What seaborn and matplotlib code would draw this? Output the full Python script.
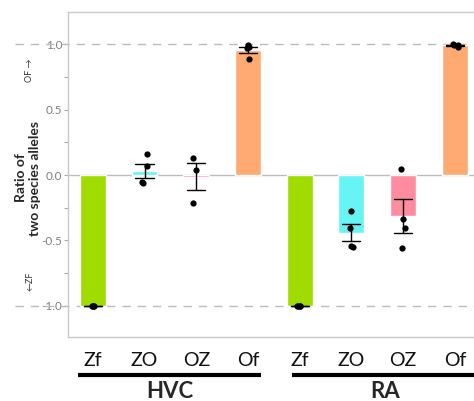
import numpy as np
import pandas as pd
import matplotlib
matplotlib.use("Agg")
import matplotlib.pyplot as plt
import matplotlib.transforms as mtransforms
import seaborn as sns

# =========================
# DATOS
# =========================
regions = ["HVC", "RA"]
genotypes = ["Zf", "ZO", "OZ", "Of"]

hvc_zf = [-1.0, -1.0, -1.0, -1.0]
hvc_zo = [0.16, 0.07, -0.05, -0.06]
hvc_oz = [0.13, 0.04, -0.21]
hvc_of = [0.99, 0.98, 0.97, 0.885]

ra_zf = [-1.0, -1.0, -1.0, -1.0]
ra_zo = [-0.275, -0.405, -0.55, -0.54]
ra_oz = [0.046, -0.336, -0.405, -0.557]
ra_of = [1.0, 0.99, 0.98, 0.99]

colors = ["#a0dc00", "#66f4f4", "#ff8ca0", "#ffaa73"]

series = {
    "HVC_Zf": hvc_zf, "HVC_ZO": hvc_zo, "HVC_OZ": hvc_oz, "HVC_Of": hvc_of,
    "RA_Zf": ra_zf, "RA_ZO": ra_zo, "RA_OZ": ra_oz, "RA_Of": ra_of,
}
order = list(series.keys())
rows = [(k, v) for k, vals in series.items() for v in vals]
df = pd.DataFrame(rows, columns=["grupo", "ratio"])
palette = {k: colors[i % 4] for i, k in enumerate(order)}

# =========================
# FIGURA
# =========================
sns.set_style("white")
plt.rcParams["font.family"] = ["Lato", "DejaVu Sans"]

fig = plt.figure(figsize=(4.74, 4.01), dpi=100)
ax = fig.add_axes([68 / 474, 1 - 337 / 401, 1 - 68 / 474, (337 - 12) / 401])

sns.barplot(data=df, x="grupo", y="ratio", hue="grupo", order=order, palette=palette,
            legend=False, width=0.5, errorbar="se", capsize=0.35,
            err_kws={"color": "black", "linewidth": 1.0}, ax=ax, saturation=1)

np.random.seed(3)
sns.stripplot(data=df, x="grupo", y="ratio", order=order, color="black",
              size=4.5, jitter=0.06, ax=ax)

ax.set_xlim(-0.48, 7.37)
ax.set_ylim(-1.237, 1.245)

# lineas de referencia
ax.axhline(0, color="#bdbdbd", linewidth=1.0, zorder=0.5)
for yv in [1.0, -1.0]:
    ax.axhline(yv, xmin=-(68 - 15) / (474 - 68), xmax=1, color="#bbbbbb",
               linewidth=1.0, linestyle=(0, (6, 5)), clip_on=False, zorder=0.6)

# ejes
for s in ["left", "top", "bottom"]:
    ax.spines[s].set_color("#c8c8c8")
    ax.spines[s].set_linewidth(1.0)
ax.spines["right"].set_visible(False)

ax.set_yticks([-1.0, -0.5, 0.0, 0.5, 1.0])
ax.set_yticklabels(["-1.0", "-0.5", "0.0", "0.5", "1.0"])
ax.set_yticks([-0.75, -0.25, 0.25, 0.75], minor=True)
ax.tick_params(axis="y", which="both", left=True, color="#aaaaaa", labelcolor="#808080",
               labelsize=8.5, length=3, width=0.8, pad=1)
ax.tick_params(axis="x", bottom=False, labelsize=14, pad=7, labelcolor="#111111")
ax.set_xticks(range(8))
ax.set_xticklabels(genotypes * 2)
ax.set_xlabel("")
ax.set_ylabel("")

# textos del eje y
fig.text(28 / 474, 1 - 178 / 401, "Ratio of\ntwo species alleles", rotation=90,
         ha="center", va="center", fontsize=10, fontweight="bold", linespacing=1.15)
fig.text(30 / 474, 1 - 70 / 401, "OF \u2192", rotation=90, ha="center", va="center",
         fontsize=6.5, color="#333333")
fig.text(30 / 474, 1 - 281 / 401, "\u2190ZF", rotation=90, ha="center", va="center",
         fontsize=6.5, color="#333333")

# barras de grupo y etiquetas
trans = mtransforms.blended_transform_factory(ax.transData, fig.transFigure)
y_line = 1 - 375 / 401
ax.plot([-0.29, 3.25], [y_line, y_line], color="black", linewidth=3, transform=trans,
        clip_on=False, solid_capstyle="butt")
ax.plot([3.85, 7.6], [y_line, y_line], color="black", linewidth=3, transform=trans,
        clip_on=False, solid_capstyle="butt")
ax.text(1.49, 1 - 392 / 401, "HVC", transform=trans, ha="center", va="center",
        fontsize=16, fontweight="bold")
ax.text(5.65, 1 - 392 / 401, "RA", transform=trans, ha="center", va="center",
        fontsize=16, fontweight="bold")

fig.savefig("out.png", dpi=100)
plt.close(fig)
